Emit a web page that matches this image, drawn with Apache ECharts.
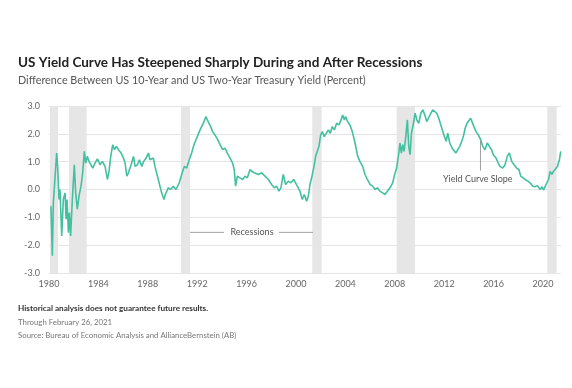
<!DOCTYPE html>
<html>
<head>
<meta charset="utf-8">
<script src="https://cdn.jsdelivr.net/npm/echarts@6/dist/echarts.min.js"></script>
<style>
html,body{margin:0;padding:0;background:#fff;}
#chart{width:572px;height:388px;}
</style>
</head>
<body>
<div id="chart"></div>
<script>
// Decimal-year positions and 10Y-2Y spread (percent)
var years = [1980.16,1980.27,1980.35,1980.62,1980.70,1980.81,1980.89,1981.03,1981.16,1981.30,1981.38,1981.46,1981.57,1981.65,1981.75,1981.89,1982.05,1982.16,1982.29,1982.43,1982.59,1982.73,1982.86,1982.97,1983.10,1983.24,1983.37,1983.54,1983.73,1983.92,1984.13,1984.32,1984.54,1984.73,1984.86,1985.00,1985.16,1985.30,1985.46,1985.62,1985.84,1986.03,1986.16,1986.30,1986.43,1986.65,1986.84,1986.97,1987.16,1987.32,1987.51,1987.67,1987.86,1988.05,
1988.18,1988.45,1988.58,1988.85,1989.12,1989.31,1989.42,1989.66,1989.85,1990.06,1990.28,1990.55,1990.82,1990.96,1991.15,1991.36,1991.55,1991.74,1991.96,1992.17,1992.36,1992.55,1992.71,1992.82,1992.96,1993.09,1993.25,1993.44,1993.66,1993.85,1994.06,1994.25,1994.44,1994.66,1994.87,1995.00,1995.11,1995.25,1995.46,1995.68,1995.87,1996.06,1996.27,1996.54,
1996.68,1996.95,1997.22,1997.49,1997.76,1998.03,1998.24,1998.43,1998.62,1998.78,1998.97,1999.16,1999.38,1999.59,1999.81,1999.97,2000.13,2000.32,2000.51,2000.67,2000.86,2001.00,2001.13,2001.27,2001.46,2001.59,2001.73,2001.86,2002.00,2002.13,2002.29,2002.46,2002.62,2002.78,2002.94,2003.11,2003.29,2003.48,2003.65,2003.78,2003.92,2004.02,2004.18,2004.37,2004.56,2004.78,2005.00,2005.18,
2005.40,2005.59,2005.78,2006.00,2006.21,2006.40,2006.59,2006.80,2007.02,2007.21,2007.40,2007.61,2007.83,2007.99,2008.15,2008.29,2008.42,2008.53,2008.64,2008.75,2008.89,2009.02,2009.13,2009.24,2009.35,2009.51,2009.65,2009.78,2009.94,2010.11,2010.27,2010.43,2010.59,2010.75,2010.92,2011.08,2011.24,2011.40,2011.56,2011.73,2011.89,2012.02,2012.16,2012.29,2012.45,2012.64,2012.78,2012.94,2013.10,2013.26,2013.42,2013.55,2013.70,2013.85,2013.97,2014.14,
2014.25,2014.41,2014.58,2014.77,2014.95,2015.12,2015.30,2015.49,2015.66,2015.84,2015.98,2016.20,2016.38,2016.52,2016.74,2016.93,2017.11,2017.28,2017.47,2017.66,2017.87,2018.06,2018.20,2018.36,2018.55,2018.77,2018.96,2019.17,2019.36,2019.55,2019.77,2019.93,2020.04,2020.17,2020.31,2020.45,2020.58,2020.72,2020.85,2021.01,2021.17,2021.33,2021.44];
var spread = [-0.60,-2.38,-0.50,1.31,0.83,-0.36,0.00,-1.67,-0.36,-0.12,-1.07,-0.36,-1.55,-0.83,-1.67,-0.36,0.89,-0.12,-0.71,-0.24,0.12,0.60,1.37,0.95,1.19,1.01,1.07,0.77,0.95,1.10,0.89,1.01,0.83,0.36,0.65,1.19,1.61,1.43,1.55,1.43,1.31,1.13,0.95,0.48,0.60,0.89,1.19,0.83,0.89,1.07,0.83,1.01,1.13,1.31,
1.07,1.13,0.83,0.36,-0.12,-0.36,-0.18,0.06,0.00,0.12,0.00,0.24,0.65,0.83,0.77,1.07,1.31,1.61,1.85,2.08,2.26,2.44,2.62,2.50,2.56,2.26,2.08,1.96,1.79,1.61,1.43,1.49,1.31,1.13,0.95,0.71,0.12,0.48,0.42,0.36,0.48,0.42,0.71,0.62,
0.65,0.54,0.60,0.48,0.36,0.18,0.06,0.12,-0.06,0.06,0.54,0.18,0.30,0.24,0.36,0.24,0.18,-0.06,-0.36,-0.18,-0.42,-0.24,0.18,0.42,0.83,1.19,1.13,1.55,1.96,2.08,1.90,2.02,2.14,2.02,2.26,2.14,2.38,2.32,2.50,2.68,2.50,2.62,2.44,2.32,2.08,1.67,1.19,1.00,
0.83,0.54,0.36,0.18,0.12,0.00,0.06,-0.06,-0.12,-0.18,-0.06,0.06,0.24,0.54,0.77,1.19,1.67,1.31,1.61,1.37,1.90,2.50,1.55,1.25,2.02,2.38,2.74,2.50,2.38,2.74,2.86,2.68,2.44,2.50,2.74,2.86,2.80,2.74,2.56,2.32,2.08,1.90,1.73,2.02,1.67,1.49,1.55,1.31,1.43,1.55,1.73,1.90,2.20,2.38,2.45,2.56,
2.44,2.26,2.08,1.96,1.79,1.55,1.43,1.67,1.55,1.43,1.25,1.13,0.95,0.83,0.77,0.89,1.19,1.31,1.01,0.89,0.77,0.71,0.48,0.54,0.36,0.30,0.24,0.12,0.10,0.14,0.00,0.10,-0.02,0.10,0.06,0.36,0.65,0.54,0.65,0.71,0.83,1.07,1.37];
// Recession periods (start, end) as decimal years on the same scale
var recessionStart = [1980.08,1981.62,1990.69,2001.32,2008.15,2020.35];
var recessionEnd   = [1980.73,1983.05,1991.42,2002.08,2009.64,2021.11];
var xTicks = [1980,1984,1988,1992,1996,2000,2004,2008,2012,2016,2020];
var yTicks = [-3,-2,-1,0,1,2,3];

var titleText = 'US Yield Curve Has Steepened Sharply During and After Recessions';
var subtitleText = 'Difference Between US 10-Year and US Two-Year Treasury Yield (Percent)';
var note1 = 'Historical analysis does not guarantee future results.';
var note2 = 'Through February 26, 2021';
var note3 = 'Source: Bureau of Economic Analysis and AllianceBernstein (AB)';

var FONT = 'Lato, "Open Sans", sans-serif';
var chart = echarts.init(document.getElementById('chart'), null, {renderer: 'canvas'});

var seriesData = years.map(function (y, i) { return [y, spread[i]]; });
var areas = recessionStart.map(function (s, i) {
  return [{xAxis: s, yAxis: yTicks[0]}, {xAxis: recessionEnd[i], yAxis: yTicks[yTicks.length - 1]}];
});

var option = {
  animation: false,
  backgroundColor: '#ffffff',
  grid: {left: 49, right: 11, top: 106, bottom: 115, containLabel: false},
  xAxis: {
    type: 'value', min: 1980, max: 2021.46, interval: 4,
    axisLine: {show: false}, axisTick: {show: false}, splitLine: {show: false},
    axisLabel: {
      color: '#666', fontSize: 9, fontFamily: FONT, margin: 7,
      showMaxLabel: false,
      formatter: function (v) { return xTicks.indexOf(v) >= 0 ? String(v) : ''; }
    }
  },
  yAxis: {
    type: 'value', min: -3, max: 3, interval: 1,
    axisLine: {show: false}, axisTick: {show: false},
    splitLine: {show: true, lineStyle: {color: '#e4e4e4', width: 1}},
    axisLabel: {color: '#666', fontSize: 9, fontFamily: FONT, margin: 9,
      formatter: function (v) { return v.toFixed(1); }}
  },
  series: [{
    type: 'line', data: seriesData, showSymbol: false, symbol: 'none',
    lineStyle: {color: '#43c0a0', width: 1.6}, z: 3,
    markArea: {silent: true, itemStyle: {color: '#e6e6e6'}, data: areas}
  }],
  graphic: [
    {type: 'text', left: 18, top: 56, style: {text: titleText, fill: '#222', font: 'bold 13.5px ' + FONT}},
    {type: 'text', left: 18, top: 75, style: {text: subtitleText, fill: '#555', font: '10.8px ' + FONT}},
    {type: 'text', left: 18, top: 304, style: {text: note1, fill: '#333', font: 'bold 8.2px ' + FONT}},
    {type: 'text', left: 18, top: 318, style: {text: note2, fill: '#777', font: '7.8px ' + FONT}},
    {type: 'text', left: 18, top: 331, style: {text: note3, fill: '#777', font: '7.8px ' + FONT}}
  ]
};
chart.setOption(option);

// Annotations anchored in data coordinates
var recY = -1.54;
var recTextX = 1996.44;
var recL = [1991.42, 1994.17], recR = [1998.62, 2001.38];
var ycsX = 2011.9, ycsY = 0.37;
var leaderX = 2014.94, leaderTop = 1.75, leaderBot = 0.68;
function px(p) { return chart.convertToPixel({gridIndex: 0}, p); }
var a = px([recL[0], recY]), b = px([recL[1], recY]), c = px([recR[0], recY]), d = px([recR[1], recY]);
var t = px([recTextX, recY]);
var s = px([ycsX, ycsY]);
var lt = px([leaderX, leaderTop]), lb = px([leaderX, leaderBot]);
var extra = [
  {type: 'line', shape: {x1: a[0], y1: a[1], x2: b[0], y2: b[1]}, style: {stroke: '#888', lineWidth: 0.8}, z: 10},
  {type: 'line', shape: {x1: c[0], y1: c[1], x2: d[0], y2: d[1]}, style: {stroke: '#888', lineWidth: 0.8}, z: 10},
  {type: 'text', x: t[0], y: t[1], style: {text: 'Recessions', fill: '#555', font: '9px ' + FONT, textAlign: 'center', textVerticalAlign: 'middle'}, z: 10},
  {type: 'line', shape: {x1: lt[0], y1: lt[1], x2: lb[0], y2: lb[1]}, style: {stroke: '#888', lineWidth: 0.8}, z: 10},
  {type: 'text', x: s[0], y: s[1], style: {text: 'Yield Curve Slope', fill: '#555', font: '9px ' + FONT, textAlign: 'left', textVerticalAlign: 'middle'}, z: 10}
];
chart.setOption({graphic: option.graphic.concat(extra)});
</script>
</body>
</html>
